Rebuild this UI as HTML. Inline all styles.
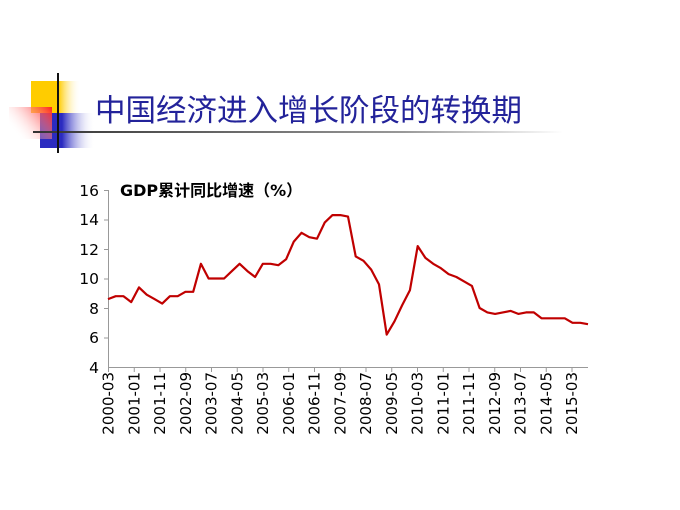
<!DOCTYPE html>
<html><head><meta charset="utf-8"><style>
html,body{margin:0;padding:0;background:#fff;}
body{width:680px;height:510px;position:relative;overflow:hidden;}
</style></head><body>
<svg width="680" height="510" xmlns="http://www.w3.org/2000/svg" style="position:absolute;left:0;top:0">
<defs>
<linearGradient id="yl" x1="0" x2="1"><stop offset="0" stop-color="#ffcc00"/><stop offset="0.55" stop-color="#ffcc00"/><stop offset="1" stop-color="#fff" stop-opacity="0"/></linearGradient>
<linearGradient id="rd" x1="1" x2="0" y1="0" y2="0.6"><stop offset="0" stop-color="#ff2020"/><stop offset="1" stop-color="#fff" stop-opacity="0"/></linearGradient>
<linearGradient id="bl" x1="0" x2="1"><stop offset="0" stop-color="#2b2bc0"/><stop offset="0.4" stop-color="#2b2bc0"/><stop offset="1" stop-color="#fff" stop-opacity="0"/></linearGradient>
<linearGradient id="ln" x1="0" x2="1"><stop offset="0" stop-color="#333"/><stop offset="0.7" stop-color="#999"/><stop offset="1" stop-color="#fff"/></linearGradient>
</defs>
<rect x="31" y="81" width="50" height="32" fill="url(#yl)"/>
<rect x="40" y="113" width="55" height="35" fill="url(#bl)"/>
<rect x="9" y="107" width="43" height="32" fill="url(#rd)"/>
<rect x="33" y="131" width="530" height="2" fill="url(#ln)"/>
<rect x="57" y="73" width="2" height="80" fill="#111"/>
<text x="95" y="121" font-family="Liberation Sans,'Noto Sans CJK SC',sans-serif" font-size="30.5" fill="#23239a">中国经济进入增长阶段的转换期</text>
<text x="120" y="196" font-family="DejaVu Sans,'Noto Sans CJK SC',sans-serif" font-size="16" font-weight="bold" fill="#000">GDP累计同比增速（%）</text>
<g stroke="#999" stroke-width="1" fill="none">
<line x1="108.5" y1="190" x2="108.5" y2="367"/>
<line x1="108" y1="367.5" x2="588" y2="367.5"/>
<line x1="104" y1="190.5" x2="108" y2="190.5"/><line x1="104" y1="220" x2="108" y2="220"/><line x1="104" y1="249.5" x2="108" y2="249.5"/><line x1="104" y1="279" x2="108" y2="279"/><line x1="104" y1="308.5" x2="108" y2="308.5"/><line x1="104" y1="338" x2="108" y2="338"/>
</g>
<g font-family="DejaVu Sans,sans-serif" font-size="15.5" fill="#000" text-anchor="end">
<text x="99" y="196">16</text><text x="99" y="225">14</text><text x="99" y="255">12</text><text x="99" y="284">10</text><text x="99" y="314">8</text><text x="99" y="343">6</text><text x="99" y="373">4</text>
</g>
<g id="xt" font-family="DejaVu Sans,sans-serif" font-size="15" fill="#000" text-anchor="end"></g>
<g id="tk" stroke="#999"></g>
<polyline id="ser" fill="none" stroke="#c00000" stroke-width="2.2" stroke-linejoin="round"/>
</svg>
<script>
var v=[8.6,8.8,8.8,8.4,9.4,8.9,8.6,8.3,8.8,8.8,9.1,9.1,11.0,10.0,10.0,10.0,10.5,11.0,10.5,10.1,11.0,11.0,10.9,11.3,12.5,13.1,12.8,12.7,13.8,14.3,14.3,14.2,11.5,11.2,10.6,9.6,6.2,7.1,8.2,9.2,12.2,11.4,11.0,10.7,10.3,10.1,9.8,9.5,8.0,7.7,7.6,7.7,7.8,7.6,7.7,7.7,7.3,7.3,7.3,7.3,7.0,7.0,6.9];
var p=[];for(var i=0;i<v.length;i++){p.push((108+i*480/62).toFixed(1)+","+(367-(v[i]-4)*14.75).toFixed(1));}
document.getElementById("ser").setAttribute("points",p.join(" "));
var L=["2000-03","2001-01","2001-11","2002-09","2003-07","2004-05","2005-03","2006-01","2006-11","2007-09","2008-07","2009-05","2010-03","2011-01","2011-11","2012-09","2013-07","2014-05","2015-03"];
var ns="http://www.w3.org/2000/svg",g=document.getElementById("xt"),tk=document.getElementById("tk");
for(var j=0;j<L.length;j++){var x=108+j*25.75;
var t=document.createElementNS(ns,"text");t.setAttribute("transform","translate("+(x+5.5)+",372) rotate(-90)");t.textContent=L[j];g.appendChild(t);
var l=document.createElementNS(ns,"line");l.setAttribute("x1",x+0.5);l.setAttribute("x2",x+0.5);l.setAttribute("y1",367);l.setAttribute("y2",372);tk.appendChild(l);}
</script>
</body></html>
